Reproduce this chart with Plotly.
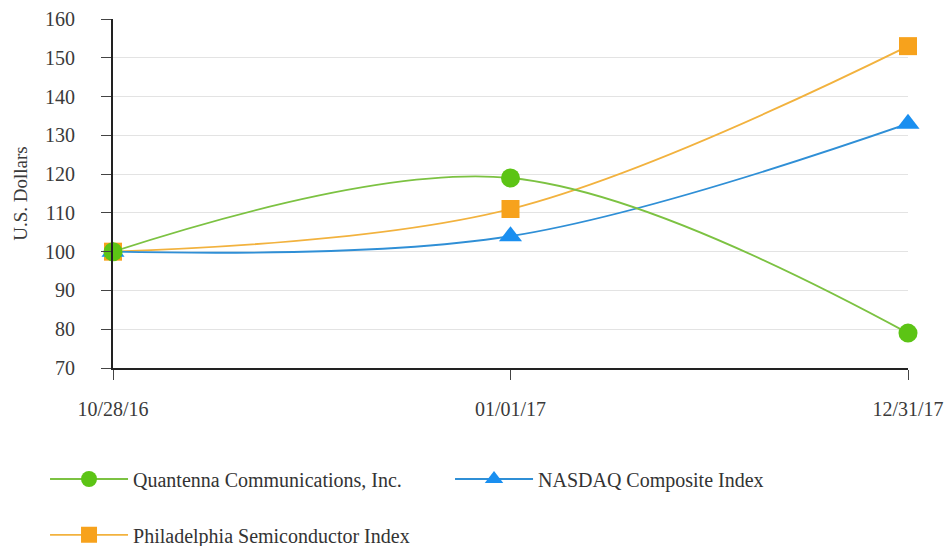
import plotly.graph_objects as go

dates = ["10/28/16", "01/01/17", "12/31/17"]
quantenna = [100, 119, 79]
nasdaq = [100, 104, 133]
sox = [100, 111, 153]
y_ticks = [70, 80, 90, 100, 110, 120, 130, 140, 150, 160]

FONT = "Liberation Serif"

fig = go.Figure()

fig.add_trace(go.Scatter(
    x=dates, y=sox, name="Philadelphia Semiconductor Index", cliponaxis=False,
    mode="lines+markers", line=dict(color="#f2b23e", width=1.8, shape="spline", smoothing=1),
    marker=dict(symbol="square", size=18, color="#f7a21c"), legend="legend2"))
fig.add_trace(go.Scatter(
    x=dates, y=nasdaq, name="NASDAQ Composite Index", cliponaxis=False,
    mode="lines+markers", line=dict(color="#2f8fd6", width=1.8, shape="spline", smoothing=1),
    marker=dict(symbol="triangle-up", size=20, color="#1a8ff0"), legend="legend"))
fig.add_trace(go.Scatter(
    x=dates, y=quantenna, name="Quantenna Communications, Inc.", cliponaxis=False,
    mode="lines+markers", line=dict(color="#7cc242", width=1.8, shape="spline", smoothing=1),
    marker=dict(symbol="circle", size=19, color="#5cc415"), legend="legend"))

fig.update_layout(
    width=950, height=546,
    margin=dict(l=113, r=42, t=19, b=178, autoexpand=False),
    paper_bgcolor="white", plot_bgcolor="white",
    font=dict(family=FONT, size=20, color="#3a3a3a"),
    showlegend=True,
    legend=dict(orientation="h", x=-0.0855, y=-0.318, xanchor="left", yanchor="middle",
                traceorder="reversed", entrywidth=312, entrywidthmode="pixels", itemwidth=78,
                font=dict(family=FONT, size=20, color="#333333"), bgcolor="rgba(0,0,0,0)"),
    legend2=dict(orientation="h", x=-0.0855, y=-0.478, xanchor="left", yanchor="middle",
                 itemwidth=78,
                 font=dict(family=FONT, size=20, color="#333333"), bgcolor="rgba(0,0,0,0)"),
    xaxis=dict(type="category", range=[0, 2], showgrid=False, showline=True, automargin=False,
               linecolor="#222222", linewidth=2, ticks="outside", ticklen=10, tickwidth=1,
               tickcolor="#444444", ticklabelstandoff=12,
               tickfont=dict(family=FONT, size=20, color="#3a3a3a")),
    yaxis=dict(range=[70, 160], tickvals=y_ticks, showgrid=True, gridcolor="#e3e3e3", gridwidth=1,
               showline=True, linecolor="#222222", linewidth=2, ticks="outside", ticklen=10,
               automargin=False,
               tickwidth=1, tickcolor="#444444", ticklabelstandoff=22, zeroline=False,
               tickfont=dict(family=FONT, size=20, color="#3a3a3a"),
               title=dict(text="U.S. Dollars", standoff=12,
                          font=dict(family=FONT, size=19, color="#3a3a3a"))),
)

fig.write_html("out.html")
